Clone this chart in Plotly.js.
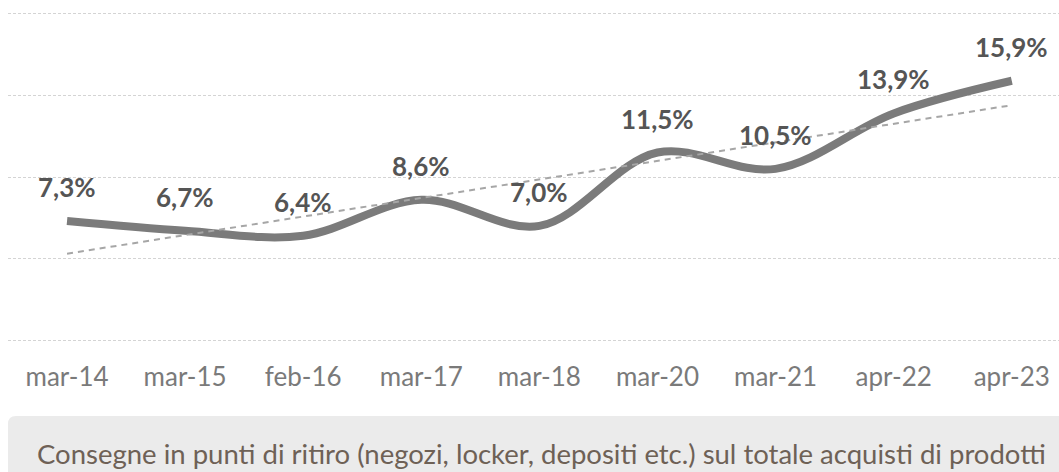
<!DOCTYPE html>
<html>
<head>
<meta charset="utf-8">
<script src="https://cdn.plot.ly/plotly-3.0.1.min.js"></script>
<style>html,body{margin:0;padding:0;background:#fff;}#chart{width:1059px;height:472px;}</style>
</head>
<body>
<div id="chart"></div>
<script>
const categories = ["mar-14","mar-15","feb-16","mar-17","mar-18","mar-20","mar-21","apr-22","apr-23"];
const values = [7.3, 6.7, 6.4, 8.6, 7.0, 11.5, 10.5, 13.9, 15.9];
const trendX = ["mar-14","apr-23"];
const trendValues = [5.3, 14.4];
const footnote = "Consegne in punti di ritiro (negozi, locker, depositi etc.) sul totale acquisti di prodotti";

const fmt = v => v.toFixed(1).replace('.', ',') + '%';

const traces = [
  {
    x: categories, y: values, type: 'scatter', mode: 'lines',
    line: {color: '#7b7b7b', width: 8, shape: 'spline', smoothing: 1},
    showlegend: false
  },
  {
    x: trendX, y: trendValues, type: 'scatter', mode: 'lines',
    line: {color: '#a6a6a6', width: 2, dash: '6px,5px'},
    hoverinfo: 'skip', showlegend: false
  }
];

const annotations = categories.map((c, i) => ({
  x: c, y: values[i], xref: 'x', yref: 'y', text: fmt(values[i]),
  showarrow: false, yshift: 34, xanchor: 'center', yanchor: 'middle',
  font: {family: 'Lato', size: 26, color: '#555555', weight: 'bold'}
}));
annotations.push({
  xref: 'paper', yref: 'paper', x: 0.508, y: 0, yshift: -108,
  xanchor: 'center', yanchor: 'middle', showarrow: false, text: footnote,
  font: {family: 'Lato', size: 27.5, color: '#6e6156'}
});

const layout = {
  width: 1059, height: 472,
  margin: {l: 8, r: 0, t: 9, b: 127},
  paper_bgcolor: '#ffffff', plot_bgcolor: '#ffffff',
  showlegend: false,
  xaxis: {
    type: 'category', categoryorder: 'array', categoryarray: categories,
    range: [-0.5, 8.4], showgrid: false, zeroline: false, showline: false,
    ticks: '', ticklabelstandoff: 14,
    tickfont: {family: 'Lato', size: 26, color: '#7a7a7a'}
  },
  yaxis: {
    range: [-0.3, 20.3], dtick: 5, tick0: 0, showticklabels: false, zeroline: false, showline: false,
    showgrid: true, gridcolor: '#d4d4d4', gridwidth: 1, griddash: '3px,2px'
  },
  shapes: [{
    type: 'path', layer: 'below',
    xref: 'paper', yref: 'paper', xsizemode: 'pixel', ysizemode: 'pixel', xanchor: 0, yanchor: 0,
    path: 'M 0,-140 L 0,-79 Q 0,-71 8,-71 L 1060,-71 L 1060,-140 Z',
    fillcolor: '#ebebeb', line: {width: 0}
  }],
  annotations: annotations
};

Plotly.newPlot('chart', traces, layout, {displayModeBar: false, staticPlot: true});
</script>
</body>
</html>
